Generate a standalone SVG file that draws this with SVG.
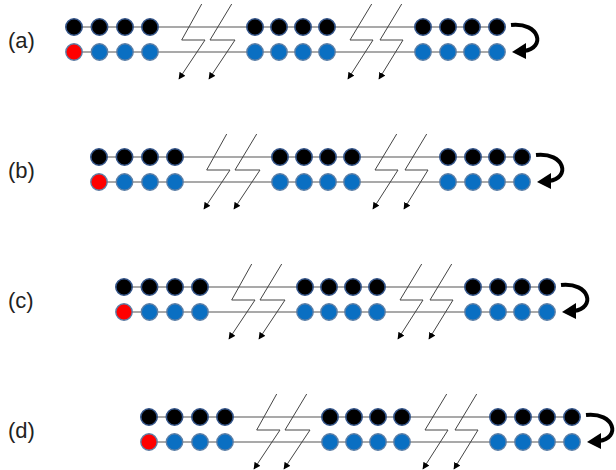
<svg xmlns="http://www.w3.org/2000/svg" xmlns:xlink="http://www.w3.org/1999/xlink" width="616" height="470" viewBox="0 0 616 470">
<style>
.lab{font-family:"Liberation Sans","DejaVu Sans",sans-serif;font-size:22px;fill:#222}
.ln{stroke:#8c8c8c;stroke-width:1.3;fill:none}
.zz{stroke:#444;stroke-width:1;fill:none;marker-end:url(#ah)}
.k{fill:#000;stroke:#34558a;stroke-width:1.6}
.b{fill:#0a6fc2;stroke:#5d7fa6;stroke-width:1.4}
.r{fill:#f00;stroke:#5d7fa6;stroke-width:1.4}
.ca{stroke:#000;stroke-width:4;fill:none}
</style>
<defs>
<marker id="ah" viewBox="0 0 10 10" refX="9" refY="5" markerWidth="7" markerHeight="7" markerUnits="userSpaceOnUse" orient="auto">
<path d="M0,0 L10,5 L0,10 Z" fill="#000"/>
</marker>
<g id="row">
<g class="connectors">
<line class="ln" x1="74" y1="27" x2="497" y2="27"/>
<line class="ln" x1="74" y1="52" x2="497" y2="52"/>
<path class="zz" d="M201.7,4 L181.7,40 L205,40 L179,79"/>
<path class="zz" d="M231.7,4 L210,40 L235,40 L209,79"/>
<path class="zz" d="M371.7,4 L350,40 L373,40 L348,79"/>
<path class="zz" d="M401.7,4 L380,40 L403,40 L379,79"/>
<path class="ca" d="M511,25 C540,22 546,48 524,51"/>
<path d="M512,52 L526,43 L526,59 Z" fill="#000"/>
</g>
<g class="top">
<circle class="k" cx="74" cy="27" r="8.2"/><circle class="k" cx="99.5" cy="27" r="8.2"/><circle class="k" cx="125" cy="27" r="8.2"/><circle class="k" cx="150" cy="27" r="8.2"/>
<circle class="k" cx="255" cy="27" r="8.2"/><circle class="k" cx="279" cy="27" r="8.2"/><circle class="k" cx="303" cy="27" r="8.2"/><circle class="k" cx="327" cy="27" r="8.2"/>
<circle class="k" cx="423" cy="27" r="8.2"/><circle class="k" cx="448" cy="27" r="8.2"/><circle class="k" cx="472" cy="27" r="8.2"/><circle class="k" cx="497" cy="27" r="8.2"/>
</g>
<g class="bottom">
<circle class="r" cx="74" cy="52" r="8.2"/><circle class="b" cx="99.5" cy="52" r="8.2"/><circle class="b" cx="125" cy="52" r="8.2"/><circle class="b" cx="150" cy="52" r="8.2"/>
<circle class="b" cx="255" cy="52" r="8.2"/><circle class="b" cx="279" cy="52" r="8.2"/><circle class="b" cx="303" cy="52" r="8.2"/><circle class="b" cx="327" cy="52" r="8.2"/>
<circle class="b" cx="423" cy="52" r="8.2"/><circle class="b" cx="448" cy="52" r="8.2"/><circle class="b" cx="472" cy="52" r="8.2"/><circle class="b" cx="497" cy="52" r="8.2"/>
</g>
</g>
</defs>
<g id="panel-a"><text class="lab" x="8" y="48">(a)</text><use xlink:href="#row" href="#row"/></g>
<g id="panel-b"><text class="lab" x="8" y="178">(b)</text><use xlink:href="#row" href="#row" transform="translate(25,130)"/></g>
<g id="panel-c"><text class="lab" x="8" y="308">(c)</text><use xlink:href="#row" href="#row" transform="translate(50,260)"/></g>
<g id="panel-d"><text class="lab" x="8" y="438">(d)</text><use xlink:href="#row" href="#row" transform="translate(75,390)"/></g>
</svg>
